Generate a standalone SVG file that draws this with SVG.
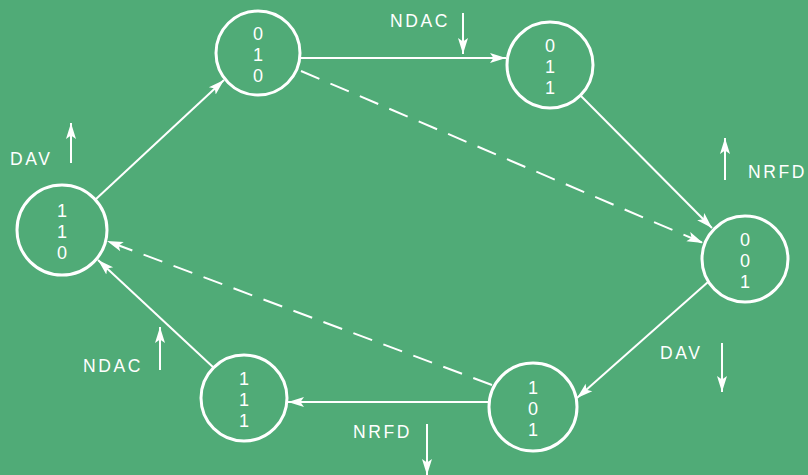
<svg xmlns="http://www.w3.org/2000/svg" width="808" height="475" viewBox="0 0 808 475">
<defs>
<marker id="ah" markerUnits="userSpaceOnUse" markerWidth="18" markerHeight="12" refX="16" refY="6" orient="auto">
<path d="M0,1 L16,6 L0,11 L3.5,6 z" fill="#fff"/>
</marker>
<style>
.node circle{fill:none;stroke:#fff;stroke-width:3}
.node text{font-family:"Liberation Sans",Arial,sans-serif;font-size:18px;fill:#fff;text-anchor:middle}
.edge{stroke:#fff;stroke-width:2;fill:none;marker-end:url(#ah)}
.dash{stroke-dasharray:20 12}
.lbl{font-family:"Liberation Sans",Arial,sans-serif;font-size:17.5px;fill:#fff;letter-spacing:2.6px}
</style>
</defs>
<rect width="808" height="475" fill="#50ab77"/>
<g id="connectors">
<line class="edge" x1="96" y1="199" x2="224" y2="80"/>
<line class="edge" x1="300" y1="58" x2="506" y2="58"/>
<line class="edge" x1="581" y1="96" x2="712" y2="228"/>
<line class="edge dash" x1="301" y1="71" x2="703" y2="243"/>
<line class="edge" x1="708" y1="282" x2="577" y2="398"/>
<line class="edge" x1="489" y1="402" x2="288" y2="402"/>
<line class="edge dash" x1="492" y1="385" x2="107" y2="241"/>
<line class="edge" x1="214" y1="368" x2="98" y2="260"/>
</g>
<g id="signals">
<line class="edge" x1="71" y1="163" x2="71" y2="123"/>
<text class="lbl" x="10" y="165">DAV</text>
<line class="edge" x1="463" y1="13" x2="463" y2="54"/>
<text class="lbl" x="390" y="27">NDAC</text>
<line class="edge" x1="725" y1="180" x2="725" y2="138"/>
<text class="lbl" x="748" y="178">NRFD</text>
<line class="edge" x1="722" y1="343" x2="722" y2="392"/>
<text class="lbl" x="660" y="359">DAV</text>
<line class="edge" x1="160" y1="370" x2="160" y2="327"/>
<text class="lbl" x="83" y="372">NDAC</text>
<line class="edge" x1="427" y1="424" x2="427" y2="475"/>
<text class="lbl" x="353" y="438">NRFD</text>
</g>
<g id="n010" class="node"><circle cx="258" cy="53" r="42"/><text x="258" y="40">0</text><text x="258" y="61">1</text><text x="258" y="82">0</text></g>
<g id="n011" class="node"><circle cx="550" cy="65" r="43"/><text x="550" y="52">0</text><text x="550" y="73">1</text><text x="550" y="94">1</text></g>
<g id="n110" class="node"><circle cx="62" cy="230" r="45"/><text x="62" y="217">1</text><text x="62" y="238">1</text><text x="62" y="259">0</text></g>
<g id="n001" class="node"><circle cx="745" cy="259" r="43"/><text x="745" y="246">0</text><text x="745" y="267">0</text><text x="745" y="288">1</text></g>
<g id="n101" class="node"><circle cx="533" cy="407" r="44"/><text x="533" y="394">1</text><text x="533" y="415">0</text><text x="533" y="436">1</text></g>
<g id="n111" class="node"><circle cx="244" cy="398" r="43"/><text x="244" y="385">1</text><text x="244" y="406">1</text><text x="244" y="427">1</text></g>
</svg>
